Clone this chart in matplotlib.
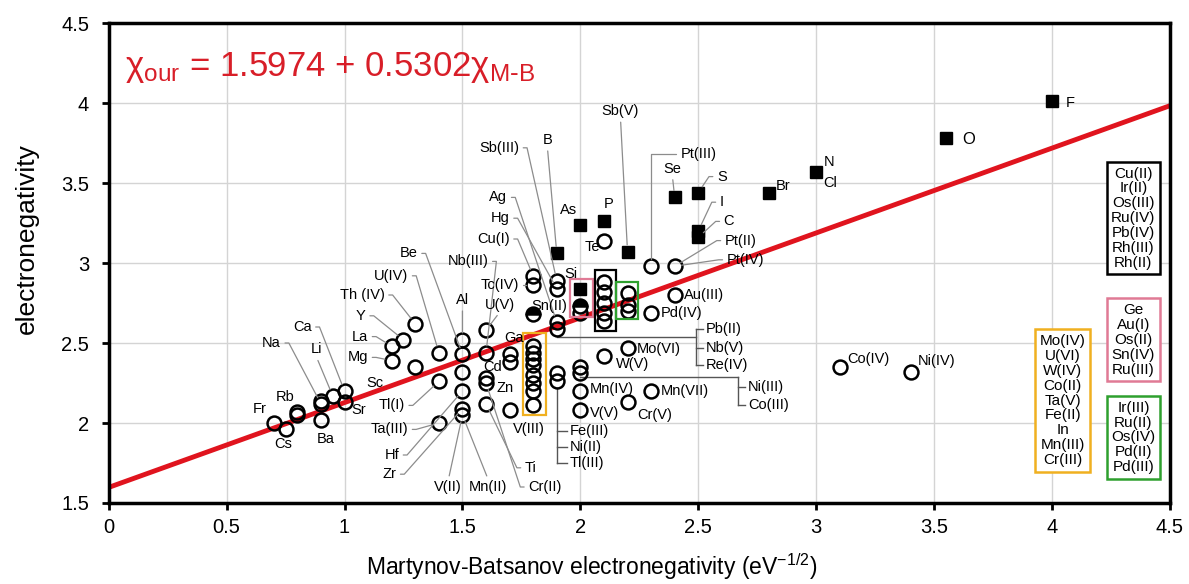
import numpy as np
import matplotlib
matplotlib.use("Agg")
from matplotlib import pyplot as plt
from matplotlib.patches import Rectangle
from matplotlib.ticker import FuncFormatter, MultipleLocator

plt.rcParams['font.family'] = ['Liberation Sans', 'DejaVu Sans']

# fit from the figure
intercept = 1.5974
slope = 0.5302

# open circles (M-B value, our value)
open_x = [0.70, 0.75, 0.80, 0.80, 0.90, 0.90, 0.90, 0.95, 1.00, 1.00,
          1.20, 1.20, 1.25, 1.30, 1.30, 1.40, 1.40, 1.40,
          1.50, 1.50, 1.50, 1.50, 1.50, 1.50,
          1.60, 1.60, 1.60, 1.60, 1.60, 1.70, 1.70, 1.70,
          1.80, 1.80, 1.80, 1.80, 1.80, 1.80, 1.80, 1.80, 1.80, 1.80,
          1.90, 1.90, 1.90, 1.90, 1.90, 1.90,
          2.00, 2.00, 2.00, 2.00, 2.00,
          2.10, 2.10, 2.10, 2.10, 2.10, 2.10, 2.10,
          2.20, 2.20, 2.20, 2.20, 2.20,
          2.30, 2.40, 2.30, 2.40, 2.30, 3.10, 3.40]
open_y = [2.00, 1.96, 2.07, 2.05, 2.02, 2.14, 2.12, 2.17, 2.20, 2.13,
          2.48, 2.39, 2.52, 2.62, 2.35, 2.44, 2.26, 2.00,
          2.52, 2.43, 2.32, 2.20, 2.09, 2.05,
          2.58, 2.44, 2.28, 2.25, 2.12, 2.43, 2.38, 2.08,
          2.92, 2.86, 2.48, 2.44, 2.40, 2.36, 2.30, 2.25, 2.20, 2.11,
          2.89, 2.84, 2.63, 2.59, 2.31, 2.26,
          2.69, 2.35, 2.31, 2.20, 2.08,
          3.14, 2.88, 2.82, 2.75, 2.69, 2.64, 2.42,
          2.81, 2.74, 2.70, 2.47, 2.13,
          2.98, 2.98, 2.69, 2.80, 2.20, 2.35, 2.32]

# filled squares
filled_x = [1.90, 2.00, 2.10, 2.20, 2.00, 2.40, 2.50, 2.50, 2.50, 2.80, 3.00, 3.55, 4.00]
filled_y = [3.06, 3.24, 3.26, 3.07, 2.84, 3.41, 3.44, 3.20, 3.16, 3.44, 3.57, 3.78, 4.01]

# half filled circles
half_x = [1.80, 2.00]
half_y = [2.68, 2.73]

# labels: text, x, y, ha, leader kind, target
labels = [
    ("Fr", 0.67, 2.09, "right", None, None),
    ("Cs", 0.74, 1.87, "center", None, None),
    ("Rb", 0.75, 2.16, "center", None, None),
    ("Ba", 0.92, 1.90, "center", None, None),
    ("Sr", 1.03, 2.08, "left", None, None),
    ("Na", 0.73, 2.50, "right", "r", (0.90, 2.12)),
    ("Li", 0.88, 2.46, "center", "d", (0.95, 2.17)),
    ("Ca", 0.86, 2.60, "right", "r", (1.00, 2.20)),
    ("Y", 1.09, 2.67, "right", "r", (1.25, 2.52)),
    ("La", 1.10, 2.54, "right", "r", (1.20, 2.48)),
    ("Mg", 1.10, 2.41, "right", "r", (1.20, 2.39)),
    ("Th (IV)", 1.17, 2.80, "right", "r", (1.30, 2.62)),
    ("U(IV)", 1.27, 2.92, "right", "r", (1.40, 2.44)),
    ("Be", 1.31, 3.06, "right", "r", (1.50, 2.43)),
    ("Nb(III)", 1.61, 3.01, "right", "r", (1.60, 2.44)),
    ("Al", 1.50, 2.77, "center", "d", (1.50, 2.52)),
    ("Tc(IV)", 1.74, 2.86, "right", "r", (1.80, 2.86)),
    ("U(V)", 1.66, 2.74, "center", "d", (1.60, 2.58)),
    ("Cu(I)", 1.70, 3.15, "right", "r", (1.80, 2.92)),
    ("Hg", 1.70, 3.28, "right", "r", (1.90, 2.84)),
    ("Ag", 1.69, 3.41, "right", "r", (1.90, 2.63)),
    ("Sb(III)", 1.74, 3.72, "right", "r", (1.90, 2.89)),
    ("B", 1.86, 3.77, "center", "d", (1.90, 3.06)),
    ("As", 1.95, 3.33, "center", None, None),
    ("P", 2.12, 3.37, "center", None, None),
    ("Te", 2.05, 3.10, "center", None, None),
    ("Si", 1.96, 2.93, "center", None, None),
    ("Sn(II)", 1.87, 2.73, "center", None, None),
    ("Sb(V)", 2.17, 3.95, "center", "d", (2.20, 3.07)),
    ("Pt(III)", 2.50, 3.68, "center", "angle", (2.30, 2.98)),
    ("Se", 2.39, 3.59, "center", "d", (2.40, 3.41)),
    ("S", 2.60, 3.54, "center", "l", (2.50, 3.44)),
    ("I", 2.60, 3.38, "center", "l", (2.50, 3.20)),
    ("C", 2.63, 3.26, "center", "l", (2.50, 3.16)),
    ("Pt(II)", 2.68, 3.14, "center", "l", (2.40, 2.98)),
    ("Pt(IV)", 2.70, 3.02, "center", "l", (2.40, 2.98)),
    ("Ga", 1.72, 2.53, "center", None, None),
    ("Cd", 1.63, 2.35, "center", None, None),
    ("Zn", 1.68, 2.22, "center", None, None),
    ("Sc", 1.13, 2.25, "center", None, None),
    ("Tl(I)", 1.20, 2.11, "center", "r", (1.40, 2.26)),
    ("Ta(III)", 1.19, 1.96, "center", "r", (1.40, 2.00)),
    ("Hf", 1.20, 1.80, "center", "r", (1.50, 2.20)),
    ("Zr", 1.19, 1.68, "center", "r", (1.50, 2.09)),
    ("V(II)", 1.44, 1.60, "center", "u", (1.50, 2.05)),
    ("Mn(II)", 1.61, 1.60, "center", "u", (1.50, 2.05)),
    ("Ti", 1.79, 1.72, "center", "l", (1.60, 2.12)),
    ("Cr(II)", 1.85, 1.60, "center", "l", (1.60, 2.25)),
    ("V(III)", 1.78, 1.96, "center", None, None),
    ("Mn(IV)", 2.04, 2.21, "left", None, None),
    ("V(V)", 2.04, 2.06, "left", None, None),
    ("Cr(V)", 2.24, 2.05, "left", None, None),
    ("Mn(VII)", 2.34, 2.20, "left", None, None),
    ("Mo(VI)", 2.24, 2.46, "left", None, None),
    ("W(V)", 2.15, 2.37, "left", None, None),
    ("Pd(IV)", 2.34, 2.69, "left", None, None),
    ("Au(III)", 2.44, 2.80, "left", None, None),
    ("Br", 2.83, 3.48, "left", None, None),
    ("N", 3.03, 3.63, "left", None, None),
    ("Cl", 3.03, 3.50, "left", None, None),
    ("O", 3.62, 3.77, "left", None, None),
    ("F", 4.06, 4.00, "left", None, None),
    ("Co(IV)", 3.13, 2.40, "left", None, None),
    ("Ni(IV)", 3.43, 2.39, "left", None, None),
]

# bracket groups: start point, elbow x, label x, label names, label y
bracket_groups = [
    ((1.90, 2.22), 1.90, 1.955, ["Fe(III)", "Ni(II)", "Tl(III)"], [1.95, 1.85, 1.75]),
    ((1.90, 2.54), 2.49, 2.53, ["Pb(II)", "Nb(V)", "Re(IV)"], [2.59, 2.47, 2.36]),
    ((2.00, 2.29), 2.667, 2.71, ["Ni(III)", "Co(III)"], [2.227, 2.115]),
]

# highlight boxes around points (x0, x1, y0, y1)
point_boxes = [
    ((1.757, 1.856, 2.05, 2.56), "#f0b020"),
    ((1.958, 2.053, 2.665, 2.90), "#e07a95"),
    ((2.06, 2.15, 2.575, 2.956), "black"),
    ((2.152, 2.244, 2.65, 2.88), "#2ea02e"),
]

# text boxes at right
box_texts = [
    (["Cu(II)", "Ir(II)", "Os(III)", "Ru(IV)", "Pb(IV)", "Rh(III)", "Rh(II)"], 4.345, 3.28, "black"),
    (["Ge", "Au(I)", "Os(II)", "Sn(IV)", "Ru(III)"], 4.345, 2.52, "#e07a95"),
    (["Ir(III)", "Ru(II)", "Os(IV)", "Pd(II)", "Pd(III)"], 4.345, 1.91, "#2ea02e"),
    (["Mo(IV)", "U(VI)", "W(IV)", "Co(II)", "Ta(V)", "Fe(II)", "In", "Mn(III)", "Cr(III)"], 4.045, 2.14, "#f0b020"),
]

fig = plt.figure(figsize=(11.89, 5.84), dpi=100)
ax = fig.add_axes([0.0914, 0.1387, 0.8926, 0.8219])
ax.set_xlim(0, 4.5)
ax.set_ylim(1.5, 4.5)
ax.xaxis.set_major_locator(MultipleLocator(0.5))
ax.yaxis.set_major_locator(MultipleLocator(0.5))
fmt = FuncFormatter(lambda v, p: "%g" % v)
ax.xaxis.set_major_formatter(fmt)
ax.yaxis.set_major_formatter(fmt)
ax.grid(True, color="#d4d4d4", lw=1.0)
ax.set_axisbelow(True)
for s in ax.spines.values():
    s.set_linewidth(2.5)
ax.tick_params(direction="out", length=5, width=2, labelsize=14.5, colors="black")
ax.tick_params(axis="x", pad=6)
ax.tick_params(axis="y", pad=9)

xx = np.array([0, 4.5])
ax.plot(xx, intercept + slope * xx, color="#e0141e", lw=3.5, zorder=2)

ax.plot(open_x, open_y, "o", ms=10, mfc="none", mec="black", mew=1.8, zorder=4)
ax.plot(filled_x, filled_y, "s", ms=9, mfc="black", mec="black", zorder=4)
ax.plot(half_x, half_y, "o", ms=10, fillstyle="top", mfc="black", mfcalt="white",
        mec="black", mew=1.8, zorder=4)

lead = dict(arrowstyle="-", color="#8c8c8c", lw=0.9, shrinkA=1, shrinkB=5)
for txt, lx, ly, ha, kind, tgt in labels:
    fs = 12 if txt == "O" else 10.5
    if kind is None:
        ax.text(lx, ly, txt, ha=ha, va="center", fontsize=fs, zorder=6)
        continue
    props = dict(lead)
    if kind == "r":
        props["connectionstyle"] = "arc,angleA=0,armA=8,rad=0"
        props["relpos"] = (1.0, 0.5)
    elif kind == "l":
        props["connectionstyle"] = "arc,angleA=180,armA=8,rad=0"
        props["relpos"] = (0.0, 0.5)
    elif kind == "d":
        props["relpos"] = (0.5, 0.0)
    elif kind == "u":
        props["relpos"] = (0.5, 1.0)
    elif kind == "angle":
        props["connectionstyle"] = "angle,angleA=180,angleB=90,rad=0"
        props["relpos"] = (0.0, 0.5)
    ax.annotate(txt, xy=tgt, xytext=(lx, ly), ha=ha, va="center", fontsize=fs,
                arrowprops=props, zorder=6)

for (sx, sy), ex, tx, names, ys in bracket_groups:
    ax.plot([sx, ex], [sy, sy], color="#555555", lw=1.0, zorder=3)
    ax.plot([ex, ex], [min(ys + [sy]), max(ys + [sy])], color="#555555", lw=1.0, zorder=3)
    for nm, yy in zip(names, ys):
        ax.plot([ex, tx - 0.01], [yy, yy], color="#555555", lw=1.0, zorder=3)
        ax.text(tx, yy, nm, ha="left", va="center", fontsize=10.5, zorder=6)

for (x0, x1, y0, y1), col in point_boxes:
    ax.add_patch(Rectangle((x0, y0), x1 - x0, y1 - y0, fill=False, ec=col, lw=1.6, zorder=5))

for names, cx, cy, col in box_texts:
    ax.text(cx, cy, "\n".join(names), ha="center", va="center", fontsize=11,
            linespacing=1.08, zorder=6,
            bbox=dict(boxstyle="square,pad=0.3", fc="white", ec=col, lw=1.8))

ax.text(0.07, 4.22, r"$\mathregular{\chi_{our}}$ = 1.5974 + 0.5302$\mathregular{\chi_{M\text{-}B}}$",
        color="#d81e28", fontsize=25, ha="left", va="center", zorder=6)

ax.set_xlabel(r"Martynov-Batsanov electronegativity (eV$^{\mathregular{-1/2}}$)", fontsize=16.5)
ax.xaxis.set_label_coords(0.455, -0.10)
ax.set_ylabel("electronegativity", fontsize=19)
ax.yaxis.set_label_coords(-0.066, 0.55)

fig.savefig("out.png", dpi=100)
